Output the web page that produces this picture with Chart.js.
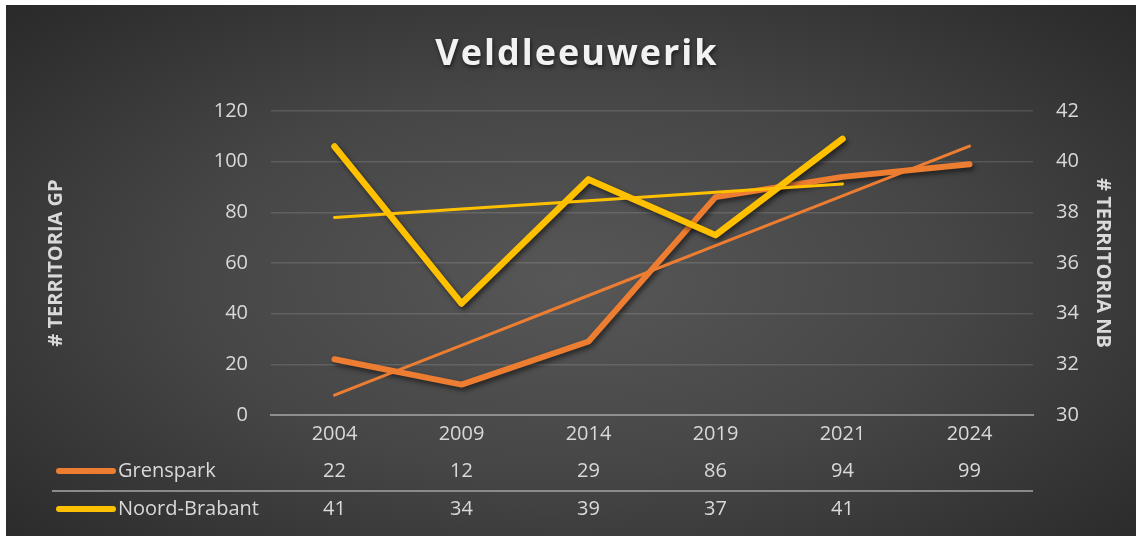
<!DOCTYPE html>
<html>
<head>
<meta charset="utf-8">
<script src="https://cdn.jsdelivr.net/npm/chart.js@4.4.1/dist/chart.umd.min.js"></script>
<style>
  body { margin: 0; background: #fff; }
  #wrap { position: absolute; left: 0; top: 0; width: 1139px; height: 538px; }
  #bg {
    position: absolute; left: 6px; top: 5px; width: 1130px; height: 531px;
    background: radial-gradient(ellipse 75% 80% at 50% 52%, #575757 0%, #464646 45%, #2e2e2e 85%, #262626 100%);
  }
  canvas { position: absolute; left: 0; top: 0; }
</style>
</head>
<body>
<div id="wrap">
  <div id="bg"></div>
  <canvas id="myChart" width="1139" height="538"></canvas>
</div>
<script>
const chartTitle = "Veldleeuwerik";
const years = ["2004", "2009", "2014", "2019", "2021", "2024"];
const grenspark = [22, 12, 29, 86, 94, 99];
// plotted values are not whole numbers, the table shows them rounded
const noordBrabant = [40.6, 34.4, 39.3, 37.1, 40.9, null];
const leftTicks = [0, 20, 40, 60, 80, 100, 120];
const rightTicks = [30, 32, 34, 36, 38, 40, 42];

const orange = "#ED7D31";
const yellow = "#FFC000";
const textColor = "#D9D9D9";
const fontFamily = "'Open Sans', sans-serif";

// linear trendline like Excel adds (least squares over the known points)
function trendline(values) {
  const pts = values.map((v, i) => [i, v]).filter((p) => p[1] !== null);
  const n = pts.length;
  const mx = pts.reduce((s, p) => s + p[0], 0) / n;
  const my = pts.reduce((s, p) => s + p[1], 0) / n;
  let sxy = 0, sxx = 0;
  pts.forEach((p) => {
    sxy += (p[0] - mx) * (p[1] - my);
    sxx += (p[0] - mx) * (p[0] - mx);
  });
  const slope = sxy / sxx;
  return values.map((v, i) => (i <= pts[n - 1][0] ? my + slope * (i - mx) : null));
}

const shadowPlugin = {
  id: "shadow",
  beforeDatasetDraw(chart, args) {
    const ctx = chart.ctx;
    ctx.save();
    if (args.meta.dataset.options.borderWidth > 4) {
      ctx.shadowColor = "rgba(0,0,0,0.55)";
      ctx.shadowBlur = 5;
      ctx.shadowOffsetX = 2;
      ctx.shadowOffsetY = 3;
    }
  },
  afterDatasetDraw(chart) {
    chart.ctx.restore();
  },
};

const tablePlugin = {
  id: "table",
  afterDraw(chart) {
    const ctx = chart.ctx;
    const x = chart.scales.x;
    ctx.save();
    // title
    ctx.font = "bold 36px " + fontFamily;
    ctx.letterSpacing = "2px";
    ctx.fillStyle = "#F2F2F2";
    ctx.textAlign = "center";
    ctx.textBaseline = "alphabetic";
    ctx.shadowColor = "rgba(0,0,0,0.6)";
    ctx.shadowBlur = 4;
    ctx.shadowOffsetX = 1;
    ctx.shadowOffsetY = 2;
    ctx.fillText(chartTitle, 577, 65);
    ctx.restore();

    ctx.save();
    ctx.font = "20px " + fontFamily;
    ctx.fillStyle = textColor;
    ctx.textBaseline = "middle";
    const rows = [
      { label: "Grenspark", values: grenspark, color: orange, y: 471 },
      { label: "Noord-Brabant", values: noordBrabant, color: yellow, y: 509 },
    ];
    rows.forEach((row) => {
      ctx.strokeStyle = row.color;
      ctx.lineWidth = 6;
      ctx.lineCap = "round";
      ctx.beginPath();
      ctx.moveTo(59, row.y);
      ctx.lineTo(113, row.y);
      ctx.stroke();
      ctx.textAlign = "left";
      ctx.fillText(row.label, 118, row.y);
      ctx.textAlign = "center";
      row.values.forEach((v, i) => {
        if (v !== null) ctx.fillText(String(Math.round(v)), x.getPixelForValue(i), row.y);
      });
    });
    ctx.strokeStyle = "#8a8a8a";
    ctx.lineWidth = 2;
    ctx.lineCap = "butt";
    ctx.beginPath();
    ctx.moveTo(52, 491);
    ctx.lineTo(x.right, 491);
    ctx.stroke();
    ctx.restore();
  },
};

const ctx = document.getElementById("myChart").getContext("2d");
const myChart = new Chart(ctx, {
  type: "line",
  data: {
    labels: years,
    datasets: [
      {
        label: "Grenspark",
        data: grenspark,
        yAxisID: "y",
        borderColor: orange,
        borderWidth: 6,
        order: 4,
      },
      {
        label: "Noord-Brabant",
        data: noordBrabant,
        yAxisID: "y1",
        borderColor: yellow,
        borderWidth: 6.5,
        order: 3,
      },
      {
        label: "Trend Grenspark",
        data: trendline(grenspark),
        yAxisID: "y",
        borderColor: orange,
        borderWidth: 3,
        order: 2,
      },
      {
        label: "Trend Noord-Brabant",
        data: trendline(noordBrabant),
        yAxisID: "y1",
        borderColor: yellow,
        borderWidth: 3,
        order: 1,
      },
    ],
  },
  options: {
    responsive: false,
    animation: false,
    spanGaps: false,
    layout: { padding: { top: 111, left: 0, right: 0, bottom: 0 } },
    elements: {
      point: { radius: 0, hoverRadius: 0 },
      line: { tension: 0, borderCapStyle: "round", borderJoinStyle: "round", fill: false },
    },
    plugins: {
      legend: { display: false },
      title: { display: false },
      tooltip: { enabled: false },
    },
    scales: {
      x: {
        offset: true,
        grid: { display: false, drawTicks: false },
        border: { display: true, color: "#8f8f8f", width: 2 },
        ticks: { color: textColor, font: { family: fontFamily, size: 20 }, padding: 7 },
        afterFit(scale) { scale.height = 123; },
      },
      y: {
        position: "left",
        min: 0,
        max: 120,
        afterBuildTicks(scale) { scale.ticks = leftTicks.map((v) => ({ value: v })); },
        grid: { color: "rgba(255,255,255,0.13)", lineWidth: 1.5, drawTicks: false },
        border: { display: false },
        ticks: { color: textColor, font: { family: fontFamily, size: 20 }, padding: 23 },
        title: {
          display: true,
          text: "# TERRITORIA GP",
          color: textColor,
          font: { family: fontFamily, size: 20, weight: "bold" },
          padding: { top: 44, bottom: 0 },
        },
        afterFit(scale) { scale.width = 271; },
      },
      y1: {
        position: "right",
        min: 30,
        max: 42,
        afterBuildTicks(scale) { scale.ticks = rightTicks.map((v) => ({ value: v })); },
        grid: { display: false, drawTicks: false },
        border: { display: false },
        ticks: { color: textColor, font: { family: fontFamily, size: 20 }, padding: 23 },
        title: {
          display: true,
          text: "# TERRITORIA NB",
          color: textColor,
          font: { family: fontFamily, size: 20, weight: "bold" },
          padding: { top: 24, bottom: 0 },
        },
        afterFit(scale) { scale.width = 106; },
      },
    },
  },
  plugins: [shadowPlugin, tablePlugin],
});
</script>
</body>
</html>
